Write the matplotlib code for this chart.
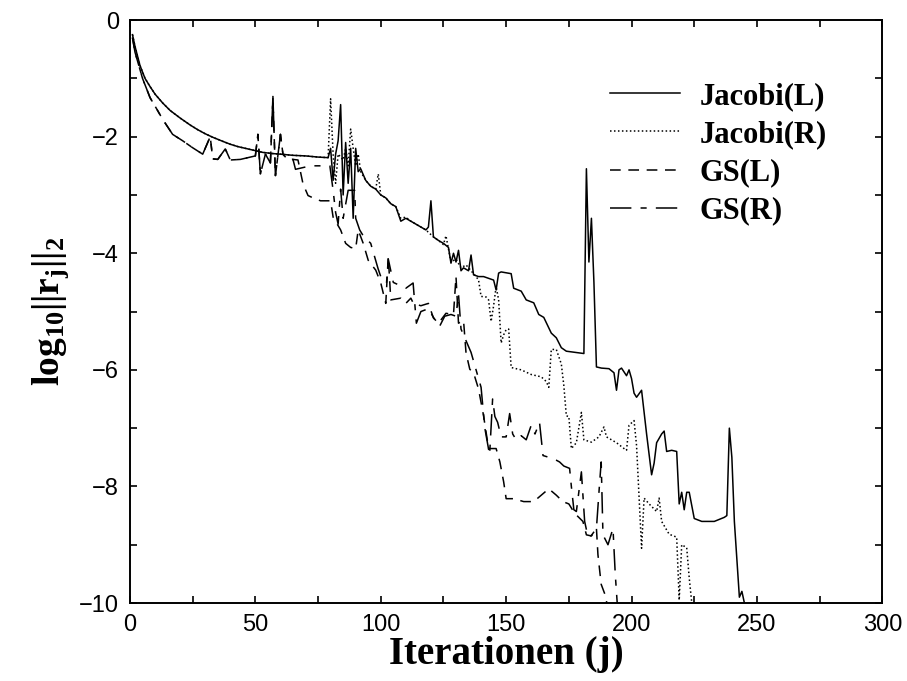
import matplotlib
matplotlib.use('Agg')
import matplotlib.pyplot as plt

# %% Data
# shared start of both Jacobi runs (curves lie on top of each other)
jac_start_x = [1, 2, 4, 6, 8, 10, 13, 16, 20, 24, 27, 30, 33, 37, 40, 43, 47, 50,
               53, 57, 60, 65, 70, 75, 79]
jac_start_y = [-0.25, -0.45, -0.78, -1.0, -1.14, -1.27, -1.42, -1.55, -1.68, -1.8,
               -1.88, -1.95, -2.01, -2.08, -2.13, -2.17, -2.21, -2.24, -2.27, -2.29,
               -2.3, -2.32, -2.33, -2.35, -2.36]

jac_l_x = [80, 81, 82, 83, 84, 85, 86, 87, 88, 89, 90, 91, 92, 94, 96, 98, 100, 102,
           104, 106, 108, 110, 112, 114, 116, 118, 119, 120, 121, 123, 125, 127, 128,
           129, 130, 131, 132, 133, 135, 136, 137, 139, 141, 143, 145, 146, 147, 148,
           152, 153, 156, 158, 161, 163, 165, 168, 170, 172, 174, 181, 182, 183, 184,
           185, 186, 188, 191, 193, 194, 195, 196, 198, 199, 200, 201, 202, 204, 206,
           208, 209, 210, 212, 213, 214, 216, 218, 219, 220, 221, 222, 223, 225, 228,
           233, 237, 238, 239, 240, 241, 243, 244, 246]
jac_l_y = [-2.2, -2.75, -2.3, -2.07, -1.45, -3.0, -2.1, -2.8, -2.2, -3.4, -2.2, -2.6,
           -2.55, -2.75, -2.85, -2.9, -3.0, -3.05, -3.15, -3.2, -3.45, -3.4, -3.45, -3.5,
           -3.55, -3.6, -3.55, -3.1, -3.72, -3.78, -3.83, -3.9, -4.17, -4.0, -4.15, -3.95,
           -4.3, -4.25, -4.3, -4.03, -4.37, -4.4, -4.4, -4.43, -4.46, -4.63, -4.34, -4.32,
           -4.35, -4.6, -4.65, -4.8, -4.85, -5.05, -5.1, -5.37, -5.45, -5.62, -5.68,
           -5.72, -2.55, -4.15, -3.4, -4.5, -5.95, -5.97, -5.98, -6.05, -6.35, -6.0,
           -5.97, -6.1, -6.0, -6.15, -6.4, -6.47, -6.35, -7.1, -7.8, -7.6, -7.25, -7.1,
           -7.05, -7.4, -7.38, -7.4, -8.3, -8.1, -8.4, -8.1, -8.1, -8.55, -8.6, -8.6,
           -8.53, -8.5, -7.0, -7.5, -8.6, -9.9, -9.8, -10.2]

jac_r_x = [80, 81, 82, 83, 85, 86, 87, 88, 89, 90, 91, 92, 94, 96, 98, 99, 100, 102,
           104, 106, 108, 110, 112, 114, 116, 118, 121, 123, 125, 126, 128, 130, 132,
           134, 136, 138, 139, 140, 142, 143, 144, 145, 146, 147, 148, 149, 150, 151,
           152, 156, 160, 164, 166, 167, 168, 170, 172, 173, 174, 175, 176, 178, 180,
           181, 184, 187, 189, 190, 194, 197, 198, 199, 201, 202, 204, 205, 207, 210,
           211, 212, 215, 218, 219, 220, 222, 223, 224.5]
jac_r_y = [-1.35, -2.3, -2.8, -2.3, -2.4, -2.2, -2.5, -1.87, -2.2, -2.5, -2.3, -2.6,
           -2.75, -2.85, -2.9, -2.64, -3.0, -3.05, -3.15, -3.2, -3.4, -3.38, -3.45,
           -3.5, -3.55, -3.6, -3.72, -3.78, -3.85, -3.7, -4.15, -4.1, -4.25, -4.2, -4.3,
           -4.4, -4.46, -4.74, -4.75, -4.8, -5.17, -4.9, -4.57, -4.8, -5.54, -5.4, -5.31,
           -5.3, -5.96, -6.0, -6.08, -6.12, -6.2, -6.3, -5.65, -5.65, -5.9, -6.27, -6.79,
           -6.8, -7.35, -7.25, -6.73, -7.2, -7.24, -7.15, -6.98, -7.15, -7.25, -7.35,
           -7.38, -6.95, -6.87, -7.3, -9.06, -8.2, -8.3, -8.43, -8.2, -8.6, -8.82, -8.87,
           -9.95, -9.0, -9.05, -9.57, -10.2]

# shared start of both Gauss-Seidel runs
gs_start_x = [1, 2, 3, 5, 8, 11, 13, 17, 21, 25, 29, 32, 33, 35, 38, 40, 44, 47, 50,
              51, 52, 54, 56, 57, 58, 60, 61, 63, 65]
gs_start_y = [-0.3, -0.55, -0.7, -1.0, -1.33, -1.55, -1.7, -1.96, -2.07, -2.19, -2.3,
              -2.0, -2.38, -2.39, -2.21, -2.4, -2.39, -2.36, -2.33, -1.96, -2.64, -2.3,
              -2.45, -1.31, -2.67, -1.96, -2.3, -2.4, -2.39]

gs_l_x = [67, 69, 71, 73, 76, 80, 81, 84, 86, 88, 90, 91, 93, 95, 98, 100, 102, 103,
          104, 108, 110, 112, 113, 116, 119, 121, 123, 126, 129, 130, 131, 133, 134,
          135.5, 137, 139, 140, 141, 142, 143, 146, 147.5, 149, 150, 153, 157, 161, 164,
          167, 170, 172.6, 175, 177.3, 180.6, 182, 184, 186, 186.6, 187.9, 189.9, 190.5]
gs_l_y = [-2.4, -2.81, -3.01, -3.05, -3.1, -3.1, -3.38, -3.6, -3.83, -3.9, -3.92, -3.6,
          -3.83, -4.12, -4.29, -4.51, -4.86, -4.06, -4.8, -4.77, -4.86, -4.77, -4.86,
          -4.9, -4.86, -5.11, -5.2, -5.03, -5.05, -4.4, -5.2, -5.15, -5.71, -5.99, -6.05,
          -6.33, -6.56, -6.79, -7.07, -7.35, -7.35, -7.58, -7.92, -8.21, -8.21, -8.26,
          -8.26, -8.15, -8.04, -8.15, -8.26, -8.3, -8.46, -8.6, -8.83, -8.85, -8.72,
          -9.17, -9.68, -9.91, -10.2]

gs_r_x = [66, 69, 72, 76, 79.7, 81, 82, 83, 84, 85, 87, 89.6, 90, 91.6, 93, 96, 98.9,
          100, 102.3, 103, 105, 110, 112.9, 114.2, 116, 119, 121, 123.5, 125.5, 128,
          130, 131, 132, 134, 136, 138, 140, 141.5, 143.4, 144.6, 145.5, 146.6, 148,
          150, 151.4, 152.6, 154, 156, 158, 160, 161.5, 163.3, 164.7, 167, 170, 171.3,
          173, 175.3, 176, 177, 178, 180, 181.3, 182.6, 184, 186, 187.3, 187.9, 188.6,
          190.6, 192.6, 193.5, 194.6]
gs_r_y = [-2.56, -2.53, -2.5, -2.5, -2.5, -2.92, -3.3, -3.5, -2.9, -3.4, -2.92, -2.92,
          -3.4, -3.6, -3.7, -3.83, -4.26, -4.4, -4.51, -4.1, -4.5, -4.6, -4.51, -5.2,
          -5.0, -4.95, -5.1, -5.25, -5.08, -5.05, -5.08, -4.7, -5.3, -5.5, -5.7, -6.0,
          -6.3, -7.0, -7.46, -6.5, -6.8, -6.9, -7.15, -7.15, -6.75, -7.1, -7.2, -7.13,
          -7.2, -6.95, -7.1, -6.9, -7.47, -7.5, -7.55, -7.58, -7.65, -7.69, -8.0, -8.4,
          -8.43, -7.75, -8.6, -8.86, -8.84, -8.72, -7.92, -7.58, -8.83, -9.0, -8.72,
          -9.5, -10.2]

labels = ['Jacobi(L)', 'Jacobi(R)', 'GS(L)', 'GS(R)']

# %% Fonts
plt.rcParams['font.family'] = 'Liberation Sans'
plt.rcParams['mathtext.fontset'] = 'custom'
plt.rcParams['mathtext.rm'] = 'Liberation Serif:bold'
plt.rcParams['mathtext.bf'] = 'Liberation Serif:bold'
plt.rcParams['mathtext.it'] = 'Liberation Serif:bold'

fig = plt.figure(figsize=(9.07, 6.81), dpi=100)
ax = fig.add_axes([0.1433, 0.1145, 0.8295, 0.856])

lw = 1.1
ax.plot(jac_start_x + jac_l_x, jac_start_y + jac_l_y, color='black', lw=lw,
        linestyle='-', label=labels[0])
ax.plot(jac_start_x + jac_r_x, jac_start_y + jac_r_y, color='black', lw=lw,
        linestyle=(0, (1, 1.6)), label=labels[1])
ax.plot(gs_start_x + gs_l_x, gs_start_y + gs_l_y, color='black', lw=lw,
        linestyle=(0, (7, 5)), label=labels[2])
ax.plot(gs_start_x + gs_r_x, gs_start_y + gs_r_y, color='black', lw=lw,
        linestyle=(0, (14, 6, 4, 6)), label=labels[3])

ax.set_xlim(0, 300)
ax.set_ylim(-10, 0)
ax.set_xticks(range(0, 301, 50))
ax.set_xticks(range(25, 300, 50), minor=True)
ax.set_yticks(range(-10, 1, 2))
ax.set_yticks(range(-9, 0, 2), minor=True)
ax.set_yticklabels(['\u221210', '\u22128', '\u22126', '\u22124', '\u22122', '0'])

ax.tick_params(which='both', direction='in', top=True, right=True, width=1.2,
               length=5, labelsize=17)
ax.tick_params(which='major', pad=8)
for s in ax.spines.values():
    s.set_linewidth(1.4)

ax.set_xlabel('Iterationen (j)', fontsize=28, fontfamily='Liberation Serif',
              fontweight='bold', labelpad=0)
ax.set_ylabel(r'$\mathbf{log_{10}||r_j||_2}$', fontsize=27, labelpad=6)

ax.legend(loc='upper left', bbox_to_anchor=(0.6375, 0.894), frameon=False,
          borderaxespad=0, borderpad=0, handlelength=2.29, handletextpad=0.65,
          labelspacing=0.3, prop={'family': 'Liberation Serif', 'weight': 'bold',
                                  'size': 22})

fig.savefig('out.png', dpi=100)
